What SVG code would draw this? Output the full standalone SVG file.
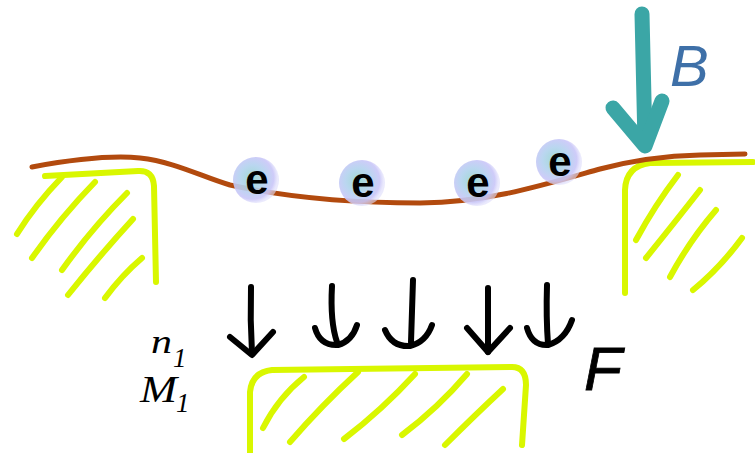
<svg xmlns="http://www.w3.org/2000/svg" width="755" height="453" viewBox="0 0 755 453">
  <defs>
    <radialGradient id="cloud" cx="0.42" cy="0.45" r="0.55">
      <stop offset="0" stop-color="#97d6cf"/>
      <stop offset="0.5" stop-color="#b2d2ee"/>
      <stop offset="0.85" stop-color="#c9c6f8"/>
      <stop offset="1" stop-color="#deddfb" stop-opacity="0.7"/>
    </radialGradient>
  </defs>
  <style>
    .ground { fill: none; stroke: #d9f700; stroke-width: 6; stroke-linecap: round; stroke-linejoin: round; }
    .force { fill: none; stroke: #000; stroke-width: 6; stroke-linecap: round; stroke-linejoin: round; }
    .field { fill: none; stroke: #3ba6a6; stroke-width: 15; stroke-linecap: round; stroke-linejoin: round; }
    .wire { fill: none; stroke: #b24a0e; stroke-width: 5; stroke-linecap: round; }
    .cloud { fill: url(#cloud); opacity: 0.9; }
    .e { font-family: "Liberation Sans", Arial, sans-serif; font-weight: bold; font-size: 42px; fill: #000; text-anchor: middle; }
    .sym { font-family: "Liberation Serif", "Times New Roman", serif; font-style: italic; fill: #000; }
  </style>

  <!-- left support -->
  <g id="support-left" class="ground">
    <path d="M45,176 L138,171 Q153,170 154,186 L156,282"/>
    <path d="M17,234 Q35,205 62,177"/>
    <path d="M32,258 Q60,218 95,182"/>
    <path d="M62,270 Q92,228 127,193"/>
    <path d="M68,295 Q100,255 133,219"/>
    <path d="M105,298 Q122,275 142,258"/>
  </g>

  <!-- right support -->
  <g id="support-right" class="ground">
    <path d="M753,162 L650,163 Q626,166 625,190 L625,293"/>
    <path d="M636,240 Q655,205 678,175"/>
    <path d="M646,258 Q675,222 700,190"/>
    <path d="M670,277 Q690,240 716,210"/>
    <path d="M693,290 Q720,268 742,238"/>
  </g>

  <!-- lower plate -->
  <g id="plate" class="ground">
    <path d="M250,453 L250,392 Q252,372 272,370 L512,367 Q526,367 526,385 L522,445"/>
    <path d="M263,428 Q278,398 304,377"/>
    <path d="M290,442 Q322,405 358,372"/>
    <path d="M344,439 Q382,410 415,374"/>
    <path d="M402,435 Q438,408 467,374"/>
    <path d="M445,445 Q475,415 503,389"/>
  </g>

  <!-- conducting sheet -->
  <g id="sheet">
    <path class="wire" d="M32,167 C70,160 110,155 140,158 C175,162 200,176 230,185 C280,196 340,203 420,203 C490,202 540,186 600,169 C630,161 660,156 700,155 L745,154"/>
  </g>

  <!-- electrons -->
  <g id="electron-1">
    <circle class="cloud" cx="256" cy="180" r="23"/>
    <text class="e" x="257" y="194">e</text>
  </g>
  <g id="electron-2">
    <circle class="cloud" cx="362" cy="183" r="23"/>
    <text class="e" x="363" y="197">e</text>
  </g>
  <g id="electron-3">
    <circle class="cloud" cx="477" cy="183" r="23"/>
    <text class="e" x="478" y="197">e</text>
  </g>
  <g id="electron-4">
    <circle class="cloud" cx="559" cy="162" r="23"/>
    <text class="e" x="560" y="176">e</text>
  </g>

  <!-- magnetic field B -->
  <g id="field-B">
    <path class="field" d="M642,14 L645,143"/>
    <path class="field" d="M613,108 L645,146 L662,101" stroke-width="16"/>
    <text x="670" y="86" font-family="Liberation Sans, Arial, sans-serif" font-style="italic" font-size="58" fill="#3e70a8">B</text>
  </g>

  <!-- force arrows -->
  <g id="forces" class="force">
    <path d="M251,287 Q250,320 252,353"/>
    <path d="M230,337 L252,355 L273,332"/>
    <path d="M332,286 Q330,322 337,342"/>
    <path d="M315,328 Q320,346 338,345 Q352,341 357,325"/>
    <path d="M413,280 Q412,315 411,342"/>
    <path d="M385,330 Q392,347 410,346 Q426,342 432,325"/>
    <path d="M488,288 L488,352"/>
    <path d="M467,328 L488,352 L510,328"/>
    <path d="M547,285 Q546,318 548,344"/>
    <path d="M527,328 Q532,346 548,345 Q565,340 572,320"/>
  </g>

  <!-- labels -->
  <g id="labels">
    <text class="sym" x="151" y="353" font-size="33" textLength="21" lengthAdjust="spacingAndGlyphs">n</text>
    <text class="sym" x="173" y="367" font-size="27">1</text>
    <text class="sym" x="140" y="402" font-size="37" textLength="37" lengthAdjust="spacingAndGlyphs">M</text>
    <text class="sym" x="176" y="412" font-size="27">1</text>
    <text x="584" y="390" font-family="Liberation Sans, Arial, sans-serif" font-style="italic" font-size="62" fill="#000" stroke="#000" stroke-width="0.8">F</text>
  </g>
</svg>
